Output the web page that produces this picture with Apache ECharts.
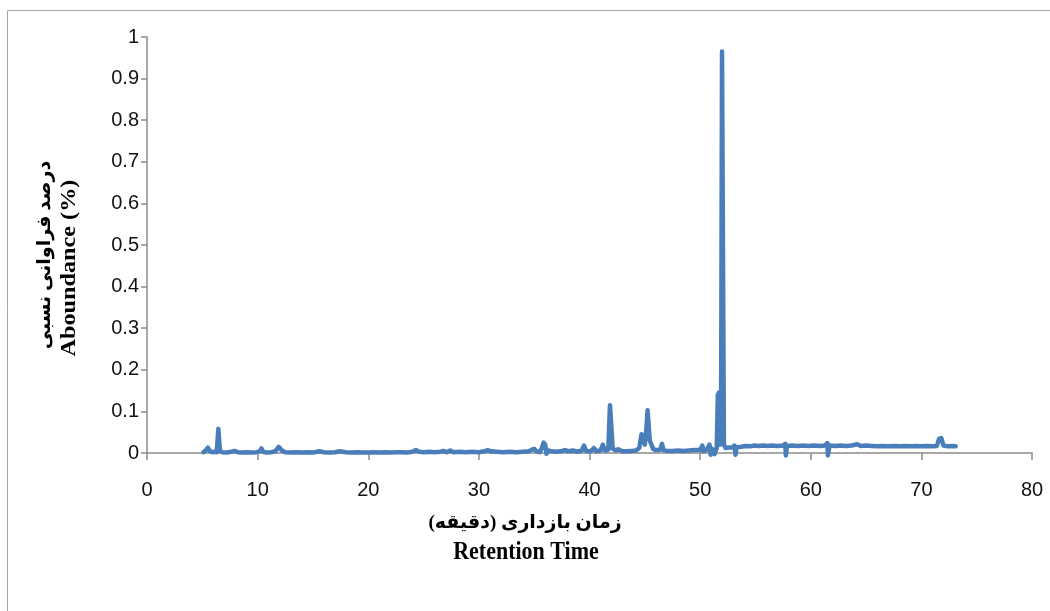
<!DOCTYPE html>
<html>
<head>
<meta charset="utf-8">
<script src="https://cdn.jsdelivr.net/npm/echarts@6/dist/echarts.min.js"></script>
<style>
  html, body { margin: 0; padding: 0; background: #fff; }
  #chart { width: 1050px; height: 611px; }
</style>
</head>
<body>
<div id="chart"></div>
<script>
// retention time (min) and relative abundance
const retentionTime = [
  5.1, 5.3, 5.5, 5.7, 5.9, 6.1, 6.3, 6.4, 6.45, 6.55, 6.6, 6.8, 7.2, 7.6, 7.9, 8.2, 8.6, 9.0, 9.5, 9.9,
  10.2, 10.35, 10.5, 10.8, 11.2, 11.6, 11.9, 12.05, 12.2, 12.5, 13.0, 13.5, 14.0, 14.5, 15.0, 15.6, 16.0, 16.5, 17.0, 17.4,
  18.0, 18.5, 19.0, 19.5, 20.0, 20.5, 21.0, 21.5, 22.0, 22.5, 23.0, 23.5, 24.0, 24.3, 24.45, 24.6, 25.0, 25.5, 26.0, 26.5,
  26.8, 27.1, 27.4, 27.7, 28.2, 28.8, 29.4, 30.0, 30.5, 30.8, 31.1, 31.6, 32.2, 32.8, 33.4, 34.0, 34.5, 34.8, 35.0, 35.2,
  35.5, 35.7, 35.85, 36.0, 36.1, 36.3, 36.6, 37.0, 37.5, 37.8, 38.1, 38.5, 38.9, 39.3, 39.5, 39.7, 40.1, 40.4, 40.6, 41.0,
  41.2, 41.4, 41.7, 41.85, 42.0, 42.1, 42.4, 42.6, 42.9, 43.3, 43.8, 44.2, 44.5, 44.7, 44.85, 45.0, 45.15, 45.25, 45.35, 45.45,
  45.6, 45.75, 46.0, 46.4, 46.55, 46.7, 47.0, 47.5, 48.0, 48.5, 49.0, 49.5, 50.0, 50.2, 50.3, 50.6, 50.85, 50.95, 51.1, 51.3,
  51.5, 51.6, 51.7, 51.8, 51.9, 51.98, 52.08, 52.15, 52.3, 52.6, 52.9, 53.1, 53.2, 53.3, 53.7, 54.1, 54.5, 54.9, 55.3, 55.7,
  56.1, 56.5, 57.0, 57.5, 57.7, 57.75, 57.85, 58.3, 58.8, 59.3, 59.8, 60.3, 60.8, 61.3, 61.5, 61.55, 61.7, 62.2, 62.7, 63.2,
  63.7, 64.2, 64.5, 65.0, 65.5, 66.0, 66.5, 67.0, 67.5, 68.0, 68.5, 69.0, 69.5, 70.0, 70.5, 71.0, 71.4, 71.6, 71.8, 72.0,
  72.4, 72.8, 73.1
]
const abundance = [
  0.002, 0.006, 0.013, 0.004, 0.002, 0.003, 0.002, 0.006, 0.058, 0.058, 0.004, 0.002, 0.001, 0.003, 0.005, 0.002, 0.001, 0.002, 0.001, 0.002,
  0.004, 0.011, 0.003, 0.001, 0.002, 0.004, 0.015, 0.017, 0.006, 0.002, 0.001, 0.002, 0.001, 0.002, 0.001, 0.004, 0.002, 0.001, 0.002, 0.004,
  0.002, 0.001, 0.002, 0.001, 0.001, 0.002, 0.001, 0.002, 0.001, 0.002, 0.002, 0.001, 0.003, 0.007, 0.008, 0.003, 0.002, 0.003, 0.002, 0.003,
  0.005, 0.002, 0.006, 0.002, 0.003, 0.002, 0.003, 0.002, 0.004, 0.007, 0.004, 0.003, 0.002, 0.003, 0.002, 0.003, 0.004, 0.008, 0.010, 0.004,
  0.002, 0.012, 0.025, 0.020, -0.002, 0.006, 0.004, 0.003, 0.005, 0.007, 0.004, 0.006, 0.003, 0.006, 0.018, 0.005, 0.004, 0.012, 0.004, 0.006,
  0.020, 0.006, 0.008, 0.115, 0.115, 0.010, 0.006, 0.009, 0.005, 0.004, 0.005, 0.006, 0.012, 0.045, 0.048, 0.020, 0.060, 0.103, 0.100, 0.030,
  0.032, 0.010, 0.007, 0.008, 0.022, 0.007, 0.005, 0.005, 0.006, 0.005, 0.006, 0.007, 0.007, 0.018, 0.004, 0.008, 0.020, -0.004, 0.010, -0.003,
  0.012, 0.140, 0.145, 0.020, 0.140, 0.965, 0.965, 0.020, 0.012, 0.013, 0.013, 0.018, -0.004, 0.014, 0.015, 0.017, 0.016, 0.018, 0.017, 0.018,
  0.017, 0.018, 0.017, 0.018, 0.022, -0.006, 0.017, 0.018, 0.017, 0.018, 0.017, 0.018, 0.017, 0.018, 0.024, -0.006, 0.018, 0.017, 0.018, 0.017,
  0.018, 0.021, 0.017, 0.018, 0.017, 0.016, 0.017, 0.016, 0.017, 0.016, 0.017, 0.016, 0.017, 0.016, 0.017, 0.016, 0.017, 0.034, 0.036, 0.018,
  0.016, 0.017, 0.016
]

const xTitleFa = '\u200Fزمان بازداری (دقیقه)\u200F'
const xTitleEn = 'Retention Time'
const yTitleFa = '\u200Fدرصد فراوانی نسبی\u200F'
const yTitleEn = 'Aboundance (%)'

const axisColor = '#8c8c8c'
const labelFont = "'Liberation Sans', Arial, sans-serif"
const titleFont = "'Liberation Serif', 'DejaVu Sans', serif"

const chart = echarts.init(document.getElementById('chart'), null, {renderer: 'canvas'})

chart.setOption({
  backgroundColor: '#fff',
  animation: false,
  grid: {
    left: 147,
    right: 18,
    top: 37,
    bottom: 158,
  },
  xAxis: {
    type: 'value',
    min: 0,
    max: 80,
    interval: 10,
    axisLine: {
      lineStyle: {color: axisColor, width: 1.5},
    },
    axisTick: {
      length: 7,
      lineStyle: {color: axisColor, width: 1.5},
    },
    axisLabel: {
      margin: 27,
      fontSize: 20,
      color: '#111',
      fontFamily: labelFont,
    },
    splitLine: {show: false},
  },
  yAxis: {
    type: 'value',
    min: 0,
    max: 1,
    interval: 0.1,
    axisLine: {
      show: true,
      lineStyle: {color: axisColor, width: 1.5},
    },
    axisTick: {
      show: true,
      length: 6,
      lineStyle: {color: axisColor, width: 1.5},
    },
    axisLabel: {
      margin: 8,
      fontSize: 20,
      color: '#111',
      fontFamily: labelFont,
      formatter: (v) => String(Math.round(v * 10) / 10),
    },
    splitLine: {show: false},
  },
  graphic: [
    {
      type: 'rect',
      silent: true,
      shape: {x: 7.5, y: 10.5, width: 1060, height: 620},
      style: {fill: 'none', stroke: '#a6a6a6', lineWidth: 1},
    },
    {
      type: 'text',
      x: 525,
      y: 523,
      style: {
        text: xTitleFa,
        font: "bold 19px " + titleFont,
        fill: '#000',
        align: 'center', verticalAlign: 'middle',
        textAlign: 'center', textVerticalAlign: 'middle',
      },
    },
    {
      type: 'text',
      x: 526,
      y: 553,
      scaleY: 1.12,
      style: {
        text: xTitleEn,
        font: "bold 22px " + titleFont,
        fill: '#000',
        align: 'center', verticalAlign: 'middle',
        textAlign: 'center', textVerticalAlign: 'middle',
      },
    },
    {
      type: 'text',
      x: 45,
      y: 255,
      rotation: Math.PI / 2,
      style: {
        text: yTitleFa,
        font: "bold 19px " + titleFont,
        fill: '#000',
        align: 'center', verticalAlign: 'middle',
        textAlign: 'center', textVerticalAlign: 'middle',
      },
    },
    {
      type: 'text',
      x: 69,
      y: 268,
      rotation: Math.PI / 2,
      scaleX: 1.1,
      style: {
        text: yTitleEn,
        font: "bold 22px " + titleFont,
        fill: '#000',
        align: 'center', verticalAlign: 'middle',
        textAlign: 'center', textVerticalAlign: 'middle',
      },
    },
  ],
  series: [{
    type: 'line',
    data: retentionTime.map((t, i) => [t, abundance[i]]),
    showSymbol: false,
    symbol: 'none',
    clip: false,
    lineStyle: {
      color: '#4a7ebb',
      width: 4.5,
      join: 'round',
      cap: 'round',
    },
    itemStyle: {color: '#4a7ebb'},
  }],
})
</script>
</body>
</html>
